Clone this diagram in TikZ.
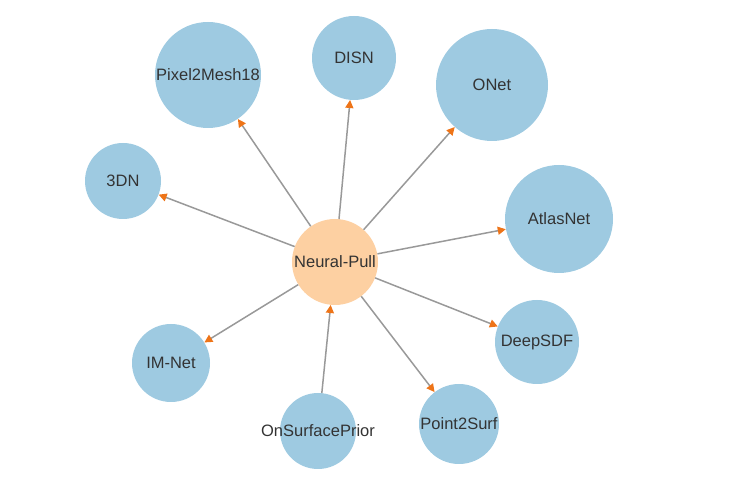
\documentclass[tikz,border=0pt]{standalone}
\usepackage{fontspec}
\setmainfont{Liberation Sans}
\usetikzlibrary{arrows.meta}
\definecolor{nodeblue}{HTML}{9ECAE1}
\definecolor{nodeorange}{HTML}{FDD0A2}
\definecolor{tiporange}{HTML}{EE7418}
\definecolor{edgegray}{HTML}{999999}
\definecolor{txt}{HTML}{333333}
\tikzset{
  lbl/.style={text=txt, font=\fontsize{16.5}{18}\selectfont, inner sep=0pt},
  bnode/.style={circle, fill=nodeblue, inner sep=0pt, label={[lbl]center:#1}},
  onode/.style={circle, fill=nodeorange, inner sep=0pt, label={[lbl]center:#1}},
  edge/.style={draw=edgegray, line width=1.5pt, -{Triangle[length=8pt,width=8pt,color=tiporange]}}
}
\begin{document}
\begin{tikzpicture}[x=1pt,y=1pt]
\useasboundingbox (0,0) rectangle (742,482);
\node[onode=Neural-Pull, minimum size=86pt] (np) at (335,220) {};
\node[bnode=Pixel2Mesh18, minimum size=106pt] (p2m) at (208,407) {};
\node[bnode=DISN, minimum size=84pt] (disn) at (354,424) {};
\node[bnode=ONet, minimum size=112pt] (onet) at (492,397) {};
\node[bnode=3DN, minimum size=76pt] (tdn) at (123,301) {};
\node[bnode=AtlasNet, minimum size=108pt] (atlas) at (559,263) {};
\node[bnode=IM-Net, minimum size=78pt] (imnet) at (171,119) {};
\node[bnode=DeepSDF, minimum size=84pt] (deepsdf) at (537,140) {};
\node[bnode=OnSurfacePrior, minimum size=76pt] (osp) at (318,51) {};
\node[bnode=Point2Surf, minimum size=80pt] (p2s) at (459,58) {};
\draw[edge] (np) -- (p2m);
\draw[edge] (np) -- (disn);
\draw[edge] (np) -- (onet);
\draw[edge] (np) -- (tdn);
\draw[edge] (np) -- (atlas);
\draw[edge] (np) -- (imnet);
\draw[edge] (np) -- (deepsdf);
\draw[edge] (np) -- (p2s);
\draw[edge] (osp) -- (np);
\end{tikzpicture}
\end{document}
